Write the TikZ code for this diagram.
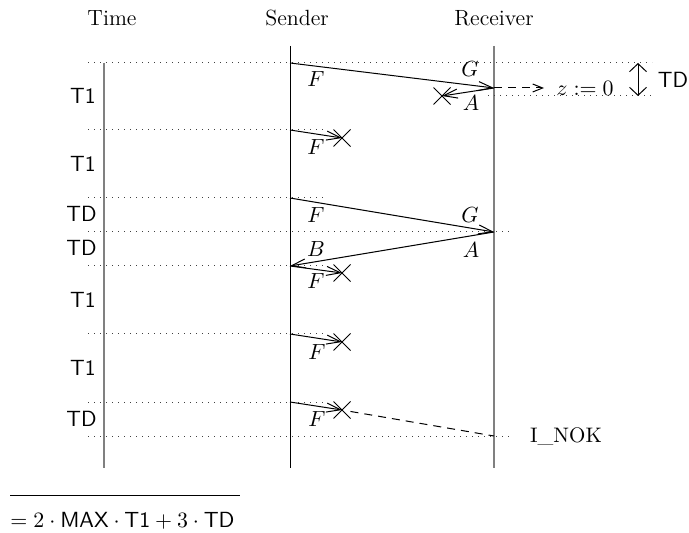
\documentclass[tikz,border=0pt]{standalone}
\usetikzlibrary{arrows.meta,shapes.misc}
\begin{document}
\begin{tikzpicture}[x=0.5pt,y=-0.5pt,
  life/.style={line width=0.5pt},
  glife/.style={line width=0.8pt,draw=black!50},
  guide/.style={line width=0.5pt,dash pattern=on 0.6pt off 2.4pt,draw=black!75},
  msg/.style={line width=0.5pt,-{Straight Barb[length=7pt,width=4.5pt]}},
  lost/.style={draw,cross out,minimum size=8pt,inner sep=0pt,line width=0.5pt},
  lbl/.style={inner sep=0pt,font=\fontsize{10.5}{12}\selectfont},
  tlbl/.style={inner sep=0pt,anchor=east,font=\fontsize{11}{13}\selectfont\sffamily},
  hdr/.style={inner sep=0pt,font=\fontsize{11}{13}\selectfont}]
\useasboundingbox (0,0) rectangle (689,533);
% headers
\node[hdr] (time) at (112,18) {Time};
\node[hdr] (sender) at (297,18) {Sender};
\node[hdr] (receiver) at (494,18) {Receiver};
% lifelines
\coordinate (t0) at (104,63); \coordinate (t1) at (104,468);
\coordinate (s0) at (290,46); \coordinate (s1) at (290,468);
\coordinate (r0) at (494,46); \coordinate (r1) at (494,468);
\draw[glife] (t0) -- (t1);
\draw[life] (s0) -- (s1);
\draw[glife] (r0) -- (r1);
% guide lines
\coordinate (g1a) at (88,63);  \coordinate (g1b) at (652,63);
\coordinate (g2a) at (488,96); \coordinate (g2b) at (652,96);
\coordinate (g3a) at (88,130); \coordinate (g3b) at (325,130);
\coordinate (g4a) at (88,198); \coordinate (g4b) at (325,198);
\coordinate (g5a) at (88,232); \coordinate (g5b) at (510,232);
\coordinate (g6a) at (88,266); \coordinate (g6b) at (325,266);
\coordinate (g7a) at (88,334); \coordinate (g7b) at (325,334);
\coordinate (g8a) at (88,402); \coordinate (g8b) at (325,402);
\coordinate (g9a) at (88,436); \coordinate (g9b) at (510,436);
\foreach \g in {1,...,9} {\draw[guide] (g\g a) -- (g\g b);}
% event points
\coordinate (sA) at (290,63);  \coordinate (rA) at (494,88);
\coordinate (sB) at (290,130);
\coordinate (sC) at (290,198); \coordinate (rC) at (494,232);
\coordinate (sD) at (290,266);
\coordinate (sE) at (290,334);
\coordinate (sF) at (290,402); \coordinate (rF) at (494,436);
\node[lost] (xA) at (442,96) {};
\node[lost] (xB) at (342,138) {};
\node[lost] (xD) at (342,273) {};
\node[lost] (xE) at (342,342) {};
\node[lost] (xF) at (342,410) {};
% messages
\draw[msg] (sA) -- (rA);
\draw[msg] (rA) -- (xA.center);
\draw[msg] (sB) -- (xB.center);
\draw[msg] (sC) -- (rC);
\draw[msg] (rC) -- (sD);
\draw[msg] (sD) -- (xD.center);
\draw[msg] (sE) -- (xE.center);
\draw[msg] (sF) -- (xF.center);
\draw[line width=0.5pt,dash pattern=on 4pt off 3pt] (xF) -- (rF);
% z := 0
\coordinate (zend) at (544,88);
\node[lbl] (z) at (585,88) {$z:=0$};
\draw[line width=0.5pt,dash pattern=on 4pt off 3pt,-{Straight Barb[length=5pt,width=4pt]}] (rA) -- (zend);
% TD double arrow
\coordinate (tdA) at (638,63); \coordinate (tdB) at (638,96);
\draw[line width=0.5pt,{Straight Barb[length=4pt,width=8.5pt]}-{Straight Barb[length=4pt,width=8.5pt]}] (tdA) -- (tdB);
\node[inner sep=0pt,font=\fontsize{11}{13}\selectfont\sffamily] (tdl) at (673,80) {TD};
% message labels
\node[lbl] (f1) at (316,79) {$F$};
\node[lbl] (g1) at (470,69) {$G$};
\node[lbl] (a1) at (471,103) {$A$};
\node[lbl] (f2) at (316,147) {$F$};
\node[lbl] (f3) at (316,215) {$F$};
\node[lbl] (g2) at (470,215) {$G$};
\node[lbl] (b1) at (316,249) {$B$};
\node[lbl] (a2) at (471,250) {$A$};
\node[lbl] (f4) at (316,281) {$F$};
\node[lbl] (f5) at (317,352) {$F$};
\node[lbl] (f6) at (317,419) {$F$};
\node[lbl] (inok) at (566,437) {I\_NOK};
% time labels
\node[tlbl] (l1) at (96,96) {T1};
\node[tlbl] (l2) at (96,164) {T1};
\node[tlbl] (l3) at (97,214) {TD};
\node[tlbl] (l4) at (97,248) {TD};
\node[tlbl] (l5) at (96,300) {T1};
\node[tlbl] (l6) at (96,368) {T1};
\node[tlbl] (l7) at (97,419) {TD};
% bottom sum
\coordinate (bl0) at (10,495); \coordinate (bl1) at (240,495);
\draw[line width=0.5pt] (bl0) -- (bl1);
\node[inner sep=0pt,anchor=west,font=\fontsize{11}{13}\selectfont] (sum) at (10,521)
  {$=2\cdot\mathsf{MAX}\cdot\mathsf{T1}+3\cdot\mathsf{TD}$};
\end{tikzpicture}
\end{document}
